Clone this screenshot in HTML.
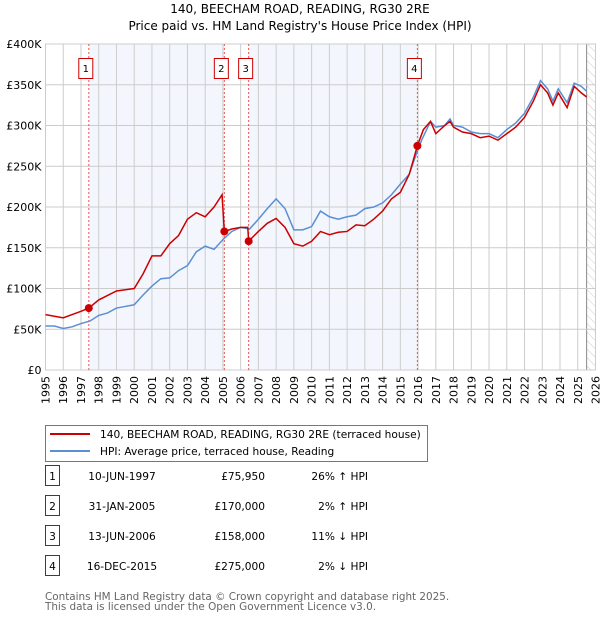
<!DOCTYPE html>
<html><head><meta charset="utf-8"><style>
body{margin:0;background:#fff;font-family:"DejaVu Sans","Liberation Sans",sans-serif;}
svg text{font-family:"DejaVu Sans","Liberation Sans",sans-serif;}
</style></head><body>
<svg id="c" width="600" height="620" xmlns="http://www.w3.org/2000/svg">
<defs><pattern id="hatch" width="6" height="6" patternUnits="userSpaceOnUse" patternTransform="rotate(-45)"><line x1="0" y1="0" x2="0" y2="6" stroke="#ccc" stroke-width="1"/></pattern></defs>
<text x="300" y="13" text-anchor="middle" font-size="12">140, BEECHAM ROAD, READING, RG30 2RE</text>
<text x="300" y="30" text-anchor="middle" font-size="12">Price paid vs. HM Land Registry's House Price Index (HPI)</text>
<g id="plot"></g>
<g>
<rect x="45.5" y="425.5" width="382" height="36" fill="#fff" stroke="#777"/>
<line x1="50" y1="434" x2="90" y2="434" stroke="#cc0000" stroke-width="2"/>
<text x="100" y="438" font-size="10.6">140, BEECHAM ROAD, READING, RG30 2RE (terraced house)</text>
<line x1="50" y1="451" x2="90" y2="451" stroke="#5b8fd4" stroke-width="2"/>
<text x="100" y="455" font-size="10.6">HPI: Average price, terraced house, Reading</text>
</g>
<g id="table" font-size="10.6"></g>
<text x="45" y="600" font-size="10.4" fill="#666">Contains HM Land Registry data © Crown copyright and database right 2025.</text>
<text x="45" y="610" font-size="10.4" fill="#666">This data is licensed under the Open Government Licence v3.0.</text>
</svg>
<script>
const hpiYears=[1995,1995.5,1996,1996.5,1997,1997.5,1998,1998.5,1999,1999.5,2000,2000.5,2001,2001.5,2002,2002.5,2003,2003.5,2004,2004.5,2005,2005.5,2006,2006.5,2007,2007.5,2008,2008.5,2009,2009.5,2010,2010.5,2011,2011.5,2012,2012.5,2013,2013.5,2014,2014.5,2015,2015.5,2015.9,2016.2,2016.7,2017,2017.5,2017.8,2018,2018.5,2019,2019.5,2020,2020.5,2021,2021.5,2022,2022.5,2022.9,2023.3,2023.6,2023.9,2024.4,2024.8,2025.2,2025.5];
const hpiValues=[54,54,51,53,57,60,67,70,76,78,80,92,103,112,113,122,128,145,152,148,160,170,175,173,185,198,210,198,172,172,176,195,188,185,188,190,198,200,205,215,228,240,265,282,305,298,300,308,300,298,292,290,290,285,295,303,315,335,355,345,330,345,328,352,348,342];
const paidYears=[1995,1996,1997,1997.44,1998,1999,2000,2000.5,2001,2001.5,2002,2002.5,2003,2003.5,2004,2004.5,2004.95,2005.08,2005.5,2006,2006.4,2006.45,2007,2007.5,2008,2008.5,2009,2009.5,2010,2010.5,2011,2011.5,2012,2012.5,2013,2013.5,2014,2014.5,2015,2015.5,2015.96,2016.3,2016.7,2017,2017.5,2017.8,2018,2018.5,2019,2019.5,2020,2020.5,2021,2021.5,2022,2022.5,2022.9,2023.3,2023.6,2023.9,2024.4,2024.8,2025.2,2025.5];
const paidValues=[68,64,72,76,86,97,100,118,140,140,155,165,185,193,188,200,215,170,173,175,175,158,170,180,186,175,155,152,158,170,166,169,170,178,177,185,195,210,218,240,275,295,305,290,300,305,298,292,290,285,287,282,290,298,310,330,350,340,325,340,322,348,340,335];
const saleLabels=["1","2","3","4"];
const saleYears=[1997.44,2005.08,2006.45,2015.96];
const salePrices=[75.95,170,158,275];
const saleDates=["10-JUN-1997","31-JAN-2005","13-JUN-2006","16-DEC-2015"];
const salePriceText=["£75,950","£170,000","£158,000","£275,000"];
const saleHpiText=["26% ↑ HPI","2% ↑ HPI","11% ↓ HPI","2% ↓ HPI"];
const yTicks=[0,50,100,150,200,250,300,350,400];
const yTickLabels=["£0","£50K","£100K","£150K","£200K","£250K","£300K","£350K","£400K"];
const xTicks=[1995,1996,1997,1998,1999,2000,2001,2002,2003,2004,2005,2006,2007,2008,2009,2010,2011,2012,2013,2014,2015,2016,2017,2018,2019,2020,2021,2022,2023,2024,2025,2026];

const X0=45.5,X1=595.5,Y0=370,Y1=44;
const x=v=>X0+(v-1995)*(X1-X0)/31;
const y=v=>Y0-(v)*(Y0-Y1)/400;
const NS="http://www.w3.org/2000/svg";
const plot=document.getElementById('plot');
function mk(tag,attrs,parent){const e=document.createElementNS(NS,tag);for(const k in attrs)e.setAttribute(k,attrs[k]);(parent||plot).appendChild(e);return e;}

let r;
r=mk('rect',{x:x(saleYears[0]),y:Y1,width:x(saleYears[1])-x(saleYears[0]),height:Y0-Y1,fill:'#eef3fc',opacity:0.7});


r=mk('rect',{x:x(saleYears[2]),y:Y1,width:x(saleYears[3])-x(saleYears[2]),height:Y0-Y1,fill:'#eef3fc',opacity:0.7});


r=mk('rect',{x:x(2025.5),y:Y1,width:X1-x(2025.5),height:Y0-Y1,fill:'url(#hatch)'});


mk('line',{x1:x(2025.5),y1:Y1,x2:x(2025.5),y2:Y0,stroke:'#888','stroke-width':1});

xTicks.forEach(t=>{
 mk('line',{x1:x(t),y1:Y1,x2:x(t),y2:Y0,stroke:'#ccc','stroke-width':1});
 const tx=mk('text',{x:0,y:0,'font-size':11,'text-anchor':'end',transform:`translate(${x(t)+4},${Y0+6}) rotate(-90)`});
 tx.textContent=t;
 
 
});
yTicks.forEach((t,i)=>{
 mk('line',{x1:X0,y1:y(t),x2:X1,y2:y(t),stroke:'#ccc','stroke-width':1});
 const tx=mk('text',{x:X0-4,y:y(t)+4,'font-size':11,'text-anchor':'end'});
 tx.textContent=yTickLabels[i];
 
 
});
mk('rect',{x:X0,y:Y1,width:X1-X0,height:Y0-Y1,fill:'none',stroke:'#ccc'});

saleYears.forEach((s,i)=>{
 mk('line',{x1:x(s),y1:Y1,x2:x(s),y2:Y0,stroke:'#e55','stroke-width':1,'stroke-dasharray':'2,2'});
 const bx=x(s)-3-7;
 const b=mk('rect',{x:bx,y:58.5,width:14,height:20,fill:'#fff',stroke:'#cc0000'});
 
 
 const t=mk('text',{x:bx+7,y:72,'font-size':10,'text-anchor':'middle'});
 t.textContent=saleLabels[i];
});

const hp=mk('polyline',{points:hpiYears.map((v,i)=>x(v)+','+y(hpiValues[i])).join(' '),fill:'none',stroke:'#5b8fd4','stroke-width':1.5});


const pp=mk('polyline',{points:paidYears.map((v,i)=>x(v)+','+y(paidValues[i])).join(' '),fill:'none',stroke:'#cc0000','stroke-width':1.5});


saleYears.forEach((s,i)=>{
 const c=mk('circle',{cx:x(s),cy:y(salePrices[i]),r:4,fill:'#cc0000'});
 
 
});

const tb=document.getElementById('table');
saleYears.forEach((s,i)=>{
 const yy=483+i*30;
 const g=mk('g',{},tb);
 
 
 mk('rect',{x:45.5,y:yy-17.5,width:14,height:20,fill:'#fff',stroke:'#cc0000'},g);
 mk('text',{x:52.5,y:yy-3,'text-anchor':'middle'},g).textContent=saleLabels[i];
 mk('text',{x:122,y:yy-3,'text-anchor':'middle'},g).textContent=saleDates[i];
 mk('text',{x:265,y:yy-3,'text-anchor':'end'},g).textContent=salePriceText[i];
 mk('text',{x:368,y:yy-3,'text-anchor':'end'},g).textContent=saleHpiText[i];
});
</script>
</body></html>
